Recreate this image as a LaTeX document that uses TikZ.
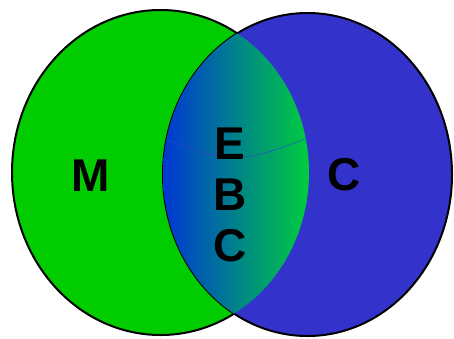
\documentclass[tikz,border=0pt]{standalone}
\usepackage{fontspec}
\setmainfont{Liberation Sans}
\definecolor{mgreen}{RGB}{0,204,0}
\definecolor{cblue}{RGB}{51,51,204}
\definecolor{lensblue}{RGB}{0,56,212}
\definecolor{lensmid}{RGB}{0,150,150}
\definecolor{lensgreen}{RGB}{0,206,62}
\definecolor{seam}{RGB}{50,70,200}
\tikzset{
  setlabel/.style={inner sep=0pt, anchor=base, font=\fontsize{46}{46}\selectfont\bfseries, text=black},
  outline/.style={draw=black, line width=2pt}
}
\begin{document}
\begin{tikzpicture}[x=1pt,y=-1pt]
\useasboundingbox (0,0) rectangle (454,338);
\def\greenell{(160.5,172.5) ellipse [x radius=148.5, y radius=162.5]}
\def\blueell{(307.5,174.5) ellipse [x radius=144.5, y radius=161.5]}
\fill[mgreen, outline] \greenell;
\fill[cblue, outline] \blueell;
\begin{scope}
  \clip \greenell;
  \clip \blueell;
  \shade[left color=lensblue, middle color=lensmid, right color=lensgreen] (163,0) rectangle (310,338);
  \draw[seam, line width=0.5pt] (166,139) .. controls (200,153) and (220,158) .. (240,157) .. controls (262,156) and (285,147) .. (307,138);
\end{scope}
\node[setlabel] (m) at (90.5,191) {M};
\node[setlabel] (c) at (344,190) {C};
\node[setlabel] (e) at (230,159) {E};
\node[setlabel] (b) at (230,210) {B};
\node[setlabel] (c2) at (230,261) {C};
\end{tikzpicture}
\end{document}
